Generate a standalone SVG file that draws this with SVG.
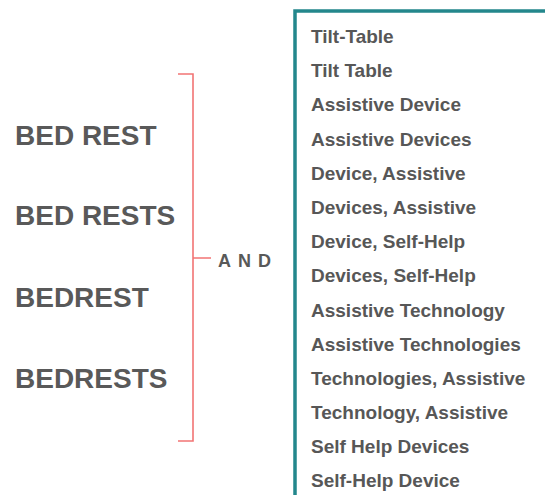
<svg xmlns="http://www.w3.org/2000/svg" width="545" height="495" viewBox="0 0 545 495">
<style>
.big{font-family:"Liberation Sans",Arial,sans-serif;font-weight:bold;font-size:28px;fill:#595959}
.item{font-family:"Liberation Sans",Arial,sans-serif;font-weight:bold;font-size:19px;fill:#575757}
.and{font-family:"Liberation Sans",Arial,sans-serif;font-weight:bold;font-size:18px;fill:#595959;letter-spacing:7px}
</style>
<rect width="545" height="495" fill="#ffffff"/>
<g id="left-terms">
<text class="big" x="15" y="145">BED REST</text>
<text class="big" x="15" y="225">BED RESTS</text>
<text class="big" x="15" y="307">BEDREST</text>
<text class="big" x="15" y="388">BEDRESTS</text>
</g>
<g id="connectors">
<path d="M178,74 H193 V441 H178 M193,258 H211" fill="none" stroke="#f27474" stroke-width="1.6"/>
</g>
<g id="and-label">
<text class="and" x="218" y="266.5">AND</text>
</g>
<g id="right-box">
<path d="M295,500 V11 H550" fill="none" stroke="#23878c" stroke-width="3.5"/>
<text class="item" x="311" y="43">Tilt-Table</text>
<text class="item" x="311" y="77">Tilt Table</text>
<text class="item" x="311" y="111">Assistive Device</text>
<text class="item" x="311" y="146">Assistive Devices</text>
<text class="item" x="311" y="180">Device, Assistive</text>
<text class="item" x="311" y="214">Devices, Assistive</text>
<text class="item" x="311" y="248">Device, Self-Help</text>
<text class="item" x="311" y="282">Devices, Self-Help</text>
<text class="item" x="311" y="317">Assistive Technology</text>
<text class="item" x="311" y="351">Assistive Technologies</text>
<text class="item" x="311" y="385">Technologies, Assistive</text>
<text class="item" x="311" y="419">Technology, Assistive</text>
<text class="item" x="311" y="453">Self Help Devices</text>
<text class="item" x="311" y="487">Self-Help Device</text>
</g>
</svg>
